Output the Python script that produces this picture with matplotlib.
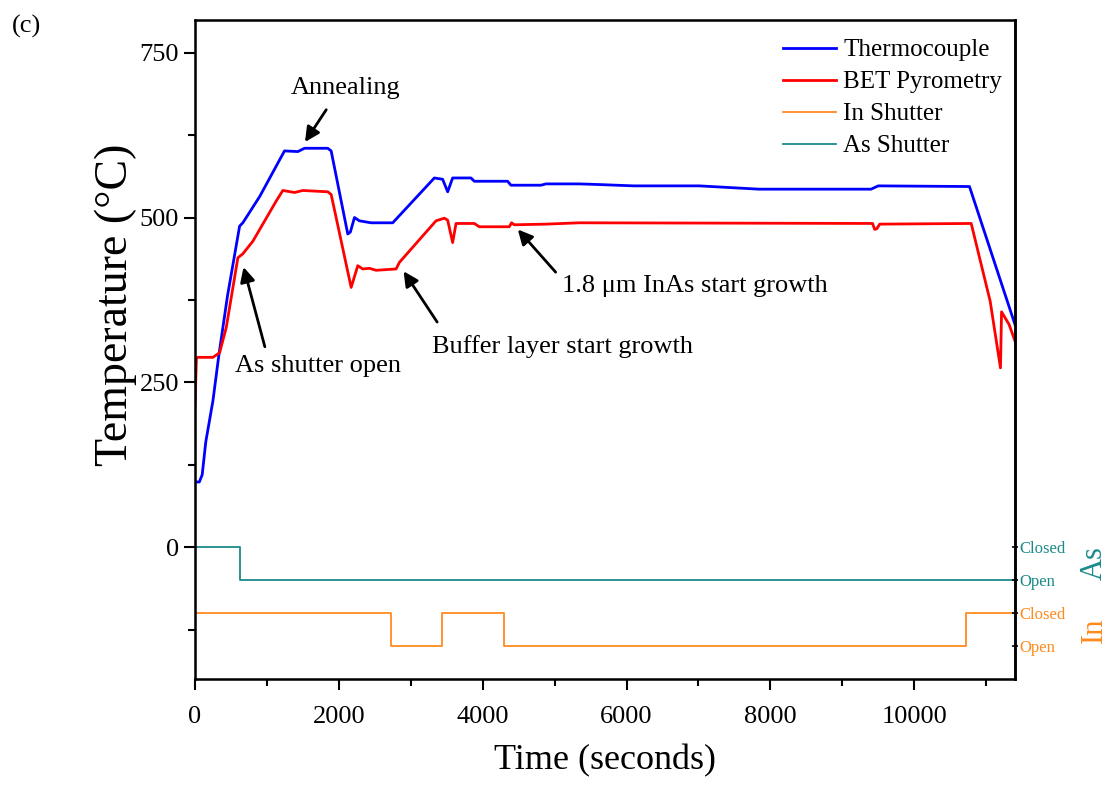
import numpy as np
from matplotlib import pyplot as plt
from matplotlib.ticker import MultipleLocator

# thermocouple reading (blue)
tc_time = [0, 60, 100, 150, 249, 330, 450, 620, 665, 900, 1244, 1430, 1522, 1846, 1893,
           2124, 2160, 2217, 2286, 2448, 2749, 3328, 3443, 3513, 3582, 3837, 3883, 4346,
           4393, 4810, 4879, 5342, 5620, 6100, 7010, 7840, 9400, 9460, 9500, 10768, 11400]
tc_temp = [99, 99, 110, 160, 222, 290, 380, 487, 492, 532, 601, 600, 605, 605, 601,
           475, 478, 500, 495, 492, 492, 560, 558, 539, 560, 560, 555, 555,
           549, 549, 551, 551, 550, 548, 548, 543, 543, 546, 548, 547, 338]

# BET pyrometry reading (red)
bet_time = [0, 20, 30, 249, 342, 434, 596, 665, 804, 1129, 1221, 1383, 1499, 1846, 1893,
            2171, 2263, 2332, 2425, 2518, 2796, 2842, 3351, 3467, 3513, 3582, 3629,
            3883, 3953, 4369, 4402, 4439, 4879, 5342, 9420, 9450, 9480, 9520, 10792,
            11056, 11199, 11214, 11318, 11400]
bet_temp = [214, 288, 288, 288, 295, 333, 439, 445, 464, 525, 541, 538, 541, 539, 535,
            394, 427, 422, 423, 420, 422, 432, 495, 499, 496, 462, 491,
            491, 486, 486, 492, 489, 490, 492, 491, 482, 483, 490, 491,
            373, 272, 357, 338, 313]

# shutter states (closed / open levels on the temperature axis)
as_time = [0, 629, 11400]
as_state = [0, -50, -50]
in_time = [0, 2726, 3435, 4300, 10716, 11400]
in_state = [-100, -150, -100, -150, -100, -100]

annotations = [
    ("Annealing", (1508, 611), (2090, 697), (1846, 667)),
    ("As shutter open", (665, 429), (1708, 275), (981, 300)),
    ("Buffer layer start growth", (2879, 422), (5108, 304), (3388, 338)),
    ("1.8 \u03bcm InAs start growth", (4463, 485), (6947, 396), (5040, 414)),
]

blue = "#0000FF"
red = "#FF0000"
orange = "#FF8A1E"
teal = "#1B8A8A"

plt.rcParams["font.family"] = ["Liberation Serif", "DejaVu Serif"]

fig = plt.figure(figsize=(11.08, 7.87), dpi=100)
ax = fig.add_axes([0.176, 0.137, 0.740, 0.838])

ax.plot(tc_time, tc_temp, color=blue, lw=2.0, label="Thermocouple")
ax.plot(bet_time, bet_temp, color=red, lw=2.0, label="BET Pyrometry")
ax.step(in_time, in_state, where="post", color=orange, lw=1.3, label="In Shutter")
ax.step(as_time, as_state, where="post", color=teal, lw=1.3, label="As Shutter")

for text, head, textpos, tail in annotations:
    ax.annotate("", xy=head, xytext=tail,
                arrowprops=dict(arrowstyle="-|>", color="k", lw=2.0, mutation_scale=22))
    ax.text(textpos[0], textpos[1], text, fontsize=19, ha="center", va="center")

ax.set_xlim(0, 11400)
ax.set_ylim(-200, 800)
ax.set_xticks(np.arange(0, 10001, 2000))
ax.xaxis.set_minor_locator(MultipleLocator(1000))
ax.set_yticks([0, 250, 500, 750])
ax.yaxis.set_minor_locator(MultipleLocator(125))
ax.tick_params(which="major", direction="out", length=8, width=1.5, labelsize=19,
               top=False, right=False)
ax.tick_params(axis="x", which="major", pad=11)
ax.tick_params(which="minor", direction="out", length=5, width=1.5, top=False, right=False)
for s in ax.spines.values():
    s.set_linewidth(1.8)

ax.set_xlabel("Time (seconds)", fontsize=26, labelpad=12)
ax.set_ylabel("Temperature (\u00b0C)", fontsize=33, labelpad=2, y=0.567)

# right side shutter state labels
ax2 = ax.twinx()
ax2.set_ylim(ax.get_ylim())
ax2.set_yticks([0, -50, -100, -150])
ax2.set_yticklabels(["Closed", "Open", "Closed", "Open"])
for lab, c in zip(ax2.get_yticklabels(), [teal, teal, orange, orange]):
    lab.set_color(c)
ax2.tick_params(axis="y", direction="inout", length=5, width=1.2, labelsize=12, pad=1)
ax2.spines["right"].set_linewidth(1.8)
ax2.text(1.097, 0.176, "As", transform=ax.transAxes, rotation=90, color=teal,
         fontsize=22, ha="center", va="center")
ax2.text(1.097, 0.074, "In", transform=ax.transAxes, rotation=90, color=orange,
         fontsize=22, ha="center", va="center")

ax.legend(loc="upper right", frameon=False, fontsize=18, handlelength=2.1,
          handletextpad=0.3, labelspacing=0.38, bbox_to_anchor=(1.012, 1.005))

fig.text(0.011, 0.966, "(c)", fontsize=19, ha="left", va="center")

plt.savefig("out.png", dpi=100)
